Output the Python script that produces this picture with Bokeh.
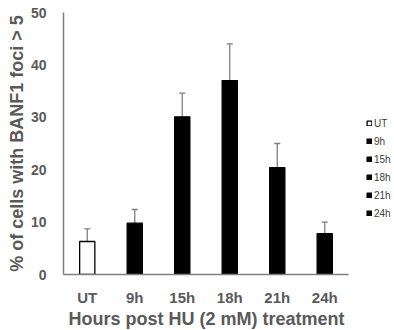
from bokeh.plotting import figure
from bokeh.models import (ColumnDataSource, Range1d, Whisker, TeeHead,
                          FixedTicker, Legend, LegendItem, Title)
from bokeh.embed import file_html
from bokeh.resources import INLINE

categories = ["UT", "9h", "15h", "18h", "21h", "24h"]
values = [6.3, 9.8, 30.1, 37.0, 20.4, 7.8]
errors = [2.4, 2.6, 4.5, 7.0, 4.6, 2.2]
fill_colors = ["white", "black", "black", "black", "black", "black"]
y_ticks = [0, 10, 20, 30, 40, 50]

n = len(categories)
xpos = [i + 0.5 for i in range(n)]

src = ColumnDataSource(dict(
    x=xpos,
    cat=categories,
    val=values,
    upper=[v + e for v, e in zip(values, errors)],
    lower=[v - e for v, e in zip(values, errors)],
    color=fill_colors,
))

FONT = "Liberation Sans"
GRAY = "#595959"
AX = "#7f7f7f"

# plot frame spans the category area (285 px) plus room on the right for the legend
LEFT, TOP, BOTTOM = 63, 12, 56
W, H = 394, 330
cat_px = 285
x_end = n * (W - LEFT) / cat_px

p = figure(width=W, height=H, x_range=Range1d(0, x_end), y_range=Range1d(0, 50),
           output_backend="svg", toolbar_location=None,
           min_border_left=LEFT, min_border_right=0, min_border_top=TOP,
           min_border_bottom=BOTTOM)
p.outline_line_color = None
p.grid.grid_line_color = None
p.background_fill_color = "white"

r = p.vbar(x="x", top="val", width=0.32, source=src, fill_color="color",
           line_color="black", line_width=1.3)

p.add_layout(Whisker(source=src, base="x", upper="upper", lower="lower",
                     line_color=AX, line_width=1.3,
                     upper_head=TeeHead(size=6, line_color=AX, line_width=1.3),
                     lower_head=TeeHead(size=6, line_color=AX, line_width=1.3)))

# axes
p.yaxis.ticker = FixedTicker(ticks=y_ticks)
p.xaxis.ticker = FixedTicker(ticks=xpos)
p.xaxis.major_label_overrides = {x: c for x, c in zip(xpos, categories)}
p.xaxis.bounds = (0, n)
for ax in (p.xaxis, p.yaxis):
    ax.major_tick_line_color = None
    ax.minor_tick_line_color = None
    ax.axis_line_color = AX
    ax.axis_line_width = 1.5
    ax.major_label_text_font = FONT
    ax.major_label_text_font_style = "bold"
    ax.major_label_text_color = GRAY
    ax.axis_label_text_font = FONT
    ax.axis_label_text_font_style = "bold"
    ax.axis_label_text_color = GRAY

p.yaxis.major_label_text_font_size = "14px"
p.yaxis.major_label_standoff = 11
p.yaxis.axis_label = "% of cells with BANF1 foci > 5"
p.yaxis.axis_label_text_font_size = "18px"
p.yaxis.axis_label_standoff = 1

p.xaxis.major_label_text_font_size = "15px"
p.xaxis.major_label_standoff = 8

# x axis title, centred under the category area
xt = Title(text="Hours post HU (2 mM) treatment", align="left", offset=5,
           standoff=-3, text_font=FONT, text_font_style="bold",
           text_font_size="18px", text_color=GRAY)
p.add_layout(xt, "below")

items = [LegendItem(label=c, renderers=[r], index=i) for i, c in enumerate(categories)]
leg = Legend(items=items, location=(303, 55))
leg.glyph_width = 6
leg.glyph_height = 6
leg.label_height = 12
leg.spacing = 6
leg.padding = 0
leg.margin = 0
leg.label_standoff = 2
leg.label_text_font = FONT
leg.label_text_font_size = "10px"
leg.label_text_color = "#404040"
leg.border_line_alpha = 0
leg.background_fill_alpha = 0
p.add_layout(leg, "center")

open("out.html", "w").write(file_html(p, INLINE))
